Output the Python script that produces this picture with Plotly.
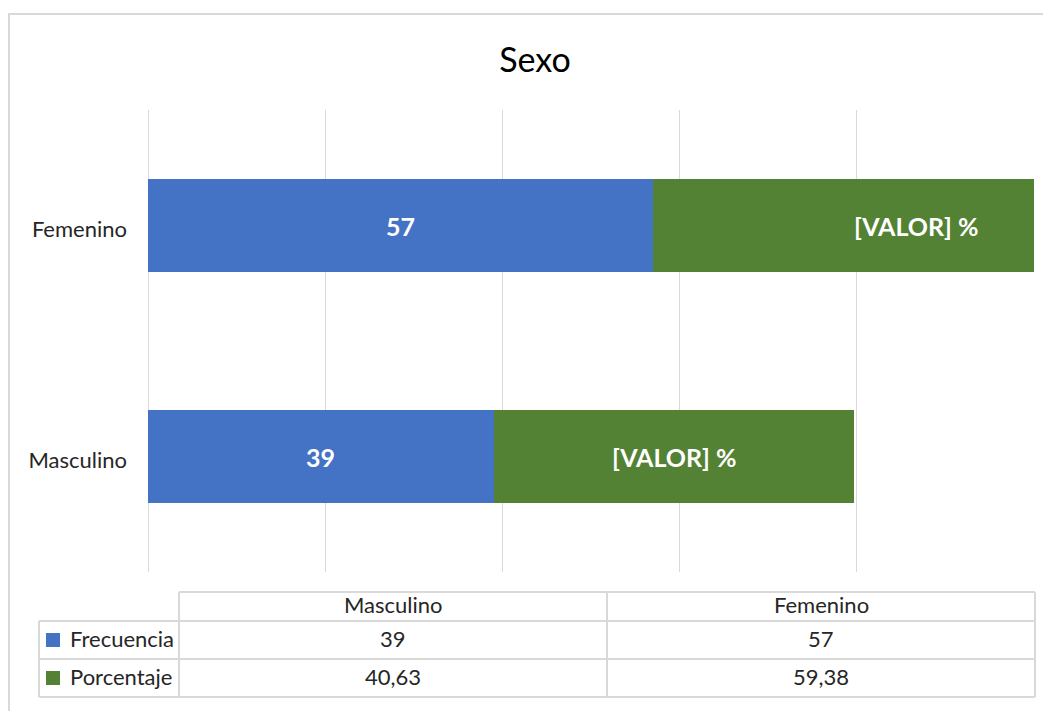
import plotly.graph_objects as go

categorias = ["Masculino", "Femenino"]
frecuencia = [39, 57]
porcentaje = [40.63, 59.38]
etiqueta_pct = "[VALOR] %"

azul = "#4472c4"
verde = "#548235"
gris = "#d9d9d9"
texto = "#262626"
fuente = "Lato"

# la pagina tiene 8px de margen, por eso la figura es mas chica
OFF = 8
W, H = 1051 - 2 * OFF, 719 - 2 * OFF
L, R, T, B = 148, 1034, 110, 572  # area de trazado en pixeles de pantalla


def px_x(p):
    return (p - L) / (R - L)


def px_y(p):
    return (B - p) / (B - T)


fig = go.Figure()
fig.add_trace(go.Bar(y=categorias, x=frecuencia, orientation="h", name="Frecuencia",
                     marker=dict(color=azul, line_width=0), hoverinfo="x"))
fig.add_trace(go.Bar(y=categorias, x=porcentaje, orientation="h", name="Porcentaje",
                     marker=dict(color=verde, line_width=0), hoverinfo="x"))

anns = []
for c, f, p in zip(categorias, frecuencia, porcentaje):
    anns.append(dict(x=f / 2, y=c, text=f"<b>{f}</b>", showarrow=False,
                     font=dict(family=fuente, size=25, color="white")))
    anns.append(dict(x=f + p / 2, y=c, text=f"<b>{etiqueta_pct}</b>", showarrow=False,
                     font=dict(family=fuente, size=25, color="white")))

# tabla de datos bajo el grafico
col_x = [39, 179, 607, 1035]
row_y = [592, 621, 659, 697]
shapes = []
ln = dict(color=gris, width=2)
shapes.append(dict(type="line", xref="paper", yref="paper", x0=px_x(col_x[1]), x1=px_x(col_x[3]),
                   y0=px_y(row_y[0]), y1=px_y(row_y[0]), line=ln))
for yy in row_y[1:]:
    shapes.append(dict(type="line", xref="paper", yref="paper", x0=px_x(col_x[0]), x1=px_x(col_x[3]),
                       y0=px_y(yy), y1=px_y(yy), line=ln))
shapes.append(dict(type="line", xref="paper", yref="paper", x0=px_x(col_x[0]), x1=px_x(col_x[0]),
                   y0=px_y(row_y[1]), y1=px_y(row_y[3]), line=ln))
for xx in col_x[1:]:
    shapes.append(dict(type="line", xref="paper", yref="paper", x0=px_x(xx), x1=px_x(xx),
                       y0=px_y(row_y[0]), y1=px_y(row_y[3]), line=ln))

tfont = dict(family=fuente, size=22, color=texto)
for i, c in enumerate(categorias):
    cx = px_x((col_x[i + 1] + col_x[i + 2]) / 2)
    filas = [c, str(frecuencia[i]), f"{porcentaje[i]:.2f}".replace(".", ",")]
    for k, t in enumerate(filas):
        anns.append(dict(xref="paper", yref="paper", x=cx, y=px_y((row_y[k] + row_y[k + 1]) / 2 - 2),
                         xanchor="center", yanchor="middle", text=t, showarrow=False, font=tfont))

for j, (nombre, color) in enumerate([("Frecuencia", azul), ("Porcentaje", verde)]):
    yc = (row_y[j + 1] + row_y[j + 2]) / 2
    shapes.append(dict(type="rect", xref="paper", yref="paper", x0=px_x(46), x1=px_x(60),
                       y0=px_y(yc - 7), y1=px_y(yc + 7), fillcolor=color, line_width=0))
    anns.append(dict(xref="paper", yref="paper", x=px_x(68), y=px_y(yc - 2), xanchor="left",
                     yanchor="middle", text=nombre, showarrow=False, font=tfont))

# marco del grafico
shapes.append(dict(type="rect", xref="paper", yref="paper", x0=px_x(9), x1=px_x(1070),
                   y0=px_y(740), y1=px_y(14), line=dict(color=gris, width=2), layer="below"))

fig.update_layout(
    width=W, height=H,
    barmode="stack", bargap=0.6,
    margin=dict(l=L - OFF, r=W - (R - OFF), t=T - OFF, b=H - (B - OFF)),
    paper_bgcolor="white", plot_bgcolor="white",
    showlegend=False,
    title=dict(text="Sexo", x=(535 - OFF) / W, xref="container", xanchor="center",
               y=(H - (60 - OFF)) / H, yanchor="middle",
               font=dict(family=fuente, size=34, color="#000000")),
    xaxis=dict(range=[0, 100], dtick=20, showgrid=True, gridcolor=gris, gridwidth=1,
               zeroline=True, zerolinecolor=gris, zerolinewidth=1,
               showticklabels=False, showline=False, fixedrange=True),
    yaxis=dict(showgrid=False, zeroline=False, showline=False, ticks="",
               ticklabelstandoff=20, ticklabelshift=4,
               tickfont=dict(family=fuente, size=22, color=texto)),
    annotations=anns,
    shapes=shapes,
)

fig.write_html("out.html")
